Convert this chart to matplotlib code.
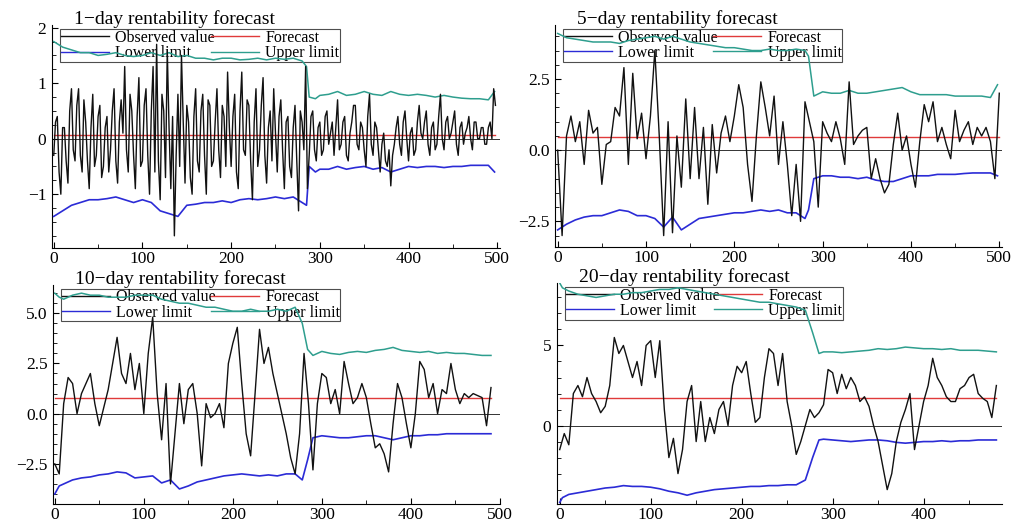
import matplotlib
matplotlib.use("Agg")
import matplotlib.pyplot as plt
import numpy as np
from matplotlib.lines import Line2D
from matplotlib.ticker import AutoMinorLocator, MultipleLocator

plt.rcParams["font.family"] = ["Liberation Serif", "DejaVu Serif"]

titles = ["1\u2212day rentability forecast", "5\u2212day rentability forecast",
          "10\u2212day rentability forecast", "20\u2212day rentability forecast"]
legend_labels = ["Observed value", "Lower limit", "Forecast", "Upper limit"]

# ---- 1-day ----
obs1 = [-0.3, 0.3, 0.4, -0.6, -1.0, 0.2, 0.2, -0.4, -0.8, 0.5,
        0.9, -0.2, -0.4, 0.6, 0.9, -0.3, -0.6, 0.7, 0.3, -0.4,
        -0.9, 0.2, 0.8, -0.5, -0.3, 0.4, 0.6, -0.7, -0.5, 0.2,
        0.4, -0.6, -0.2, 0.5, 0.9, -0.4, -0.8, 0.3, 0.7, 0.1,
        1.3, -0.2, -0.6, 0.8, 0.5, -0.3, -0.9, 0.4, 1.1, -0.5,
        -0.4, 0.6, 0.9, -0.3, -1.0, 0.5, 1.3, -0.6, 1.7, -0.4,
        -1.1, 0.8, 0.5, -0.7, 1.6, 0.2, -0.9, 0.4, -1.75, -0.3,
        0.8, -0.5, 1.5, 0.3, -0.8, 0.6, 0.3, -0.7, -1.0, 0.4,
        0.9, -0.4, -0.6, 0.5, 0.8, -0.3, -1.0, 0.7, 0.6, -0.5,
        -0.4, 0.3, 0.9, -0.2, -0.7, 0.6, 0.4, -0.5, 1.2, 0.2,
        -0.5, 0.4, 0.8, -0.6, -0.9, 0.5, 1.2, -0.2, -0.3, 0.7,
        0.6, -0.4, -1.1, 0.3, 0.9, -0.5, -0.2, 0.6, 1.1, -0.3,
        -0.8, 0.2, 0.5, -0.4, 0.9, 0.1, -0.6, 0.4, 0.7, -0.2,
        -0.9, 0.3, 0.4, -0.5, -0.7, 0.2, 0.6, -0.4, -1.3, 0.5,
        0.3, -0.2, 1.3, -0.9, -0.3, 0.4, 0.5, -0.2, -0.4, 0.2,
        0.3, -0.3, -0.2, 0.4, 0.5, -0.1, 0.1, 0.3, -0.3, 0.2,
        0.7, -0.2, -0.1, 0.3, 0.4, -0.3, -0.4, 0.1, 0.3, 0.6,
        0.6, -0.1, -0.2, 0.3, 0.2, -0.2, -0.5, 0.4, 0.8, -0.1,
        -0.3, 0.3, 0.2, -0.2, -0.6, -0.1, 0.1, -0.4, -0.5, -0.2,
        -0.85, -0.3, -0.1, 0.2, 0.4, -0.1, -0.3, 0.3, 0.5, 0.0,
        -0.4, 0.1, 0.2, -0.3, -0.2, 0.3, 0.6, 0.1, 0.0, 0.3,
        0.5, -0.1, -0.3, 0.2, 0.3, -0.2, -0.1, 0.4, 0.8, 0.0,
        -0.2, 0.3, 0.4, 0.0, 0.1, 0.3, 0.5, -0.1, -0.3, 0.2,
        0.3, -0.1, 0.1, 0.2, 0.4, 0.0, -0.2, 0.3, 0.3, 0.0,
        0.0, 0.2, 0.2, -0.1, -0.1, 0.2, 0.3, 0.0, 0.9, 0.6]
t_obs1 = list(range(0, 500, 2))
fc1 = 0.07
t_lim1 = [0, 10, 20, 30, 40, 50, 60, 70, 80, 90, 100, 110, 120, 130, 140, 150,
          160, 170, 180, 190, 200, 210, 220, 230, 240, 250, 260, 270, 280, 285,
          288, 295, 300, 310, 320, 330, 340, 350, 360, 370, 380, 390, 400, 410,
          420, 430, 440, 450, 460, 470, 480, 490, 497]
up1 = [1.75, 1.65, 1.6, 1.55, 1.55, 1.5, 1.52, 1.55, 1.5, 1.48, 1.5, 1.55, 1.5,
       1.55, 1.48, 1.5, 1.45, 1.45, 1.42, 1.45, 1.45, 1.42, 1.43, 1.45, 1.42,
       1.45, 1.43, 1.45, 1.4, 1.3, 0.75, 0.72, 0.78, 0.8, 0.85, 0.78, 0.8, 0.85,
       0.8, 0.78, 0.85, 0.8, 0.78, 0.8, 0.78, 0.75, 0.78, 0.75, 0.73, 0.72, 0.72,
       0.7, 0.85]
lo1 = [-1.4, -1.3, -1.2, -1.15, -1.1, -1.1, -1.08, -1.05, -1.1, -1.15, -1.1,
       -1.15, -1.3, -1.35, -1.4, -1.2, -1.18, -1.15, -1.15, -1.12, -1.15, -1.1,
       -1.08, -1.1, -1.08, -1.05, -1.08, -1.05, -1.15, -1.2, -0.5, -0.6, -0.55,
       -0.55, -0.5, -0.55, -0.52, -0.5, -0.55, -0.52, -0.6, -0.55, -0.5, -0.52,
       -0.5, -0.5, -0.52, -0.5, -0.5, -0.48, -0.48, -0.48, -0.6]

# ---- 5-day ----
obs2 = [0.0, -3.0, 0.5, 1.2, 0.3, 1.0, -0.5, 1.4, 0.6, 0.8,
        -1.2, 0.2, 0.3, 1.5, 1.2, 2.9, -0.5, 2.7, 0.4, 1.3,
        -0.3, 1.2, 3.5, 0.5, -3.0, 1.0, -2.9, 0.5, -1.3, 1.8,
        -1.0, 1.5, -1.0, 0.8, -1.9, 0.9, -0.8, 0.6, 1.2, 0.3,
        1.2, 2.3, 1.5, -0.5, -1.8, 0.5, 2.4, 1.5, 0.5, 1.9,
        -0.5, 1.0, -0.5, -2.3, -0.5, -2.5, 1.7, 1.0, 0.3, -2.0,
        1.0, 0.6, 0.3, 1.0, 0.4, -0.5, 2.4, 0.2, 0.5, 0.7,
        0.8, -1.0, -0.3, -1.0, -1.5, -1.2, 0.2, 1.3, 0.0, 0.5,
        -0.5, -1.3, 0.3, 1.6, 1.0, 1.7, 0.3, 0.8, 0.2, -0.3,
        1.4, 0.3, 0.7, 1.0, 0.2, 0.8, 0.5, 0.8, 0.3, -1.0, 2.0]
t_obs2 = list(range(0, 501, 5))
fc2 = 0.45
t_lim2 = list(range(0, 281, 10)) + [284, 290] + list(range(300, 491, 10)) + [498]
up2 = [4.1, 3.95, 3.9, 3.85, 3.8, 3.8, 3.8, 3.75, 3.85, 3.9,
       3.95, 4.0, 3.9, 4.0, 3.9, 3.8, 3.75, 3.7, 3.65, 3.6,
       3.6, 3.55, 3.5, 3.5, 3.55, 3.5, 3.5, 3.55, 3.5, 3.3, 1.9,
       2.05, 2.0, 2.0, 2.1, 2.0, 2.0, 2.05, 2.1, 2.15, 2.2,
       2.05, 1.95, 1.95, 1.95, 1.95, 1.9, 1.9, 1.9, 1.9, 1.85, 2.3]
lo2 = [-2.8, -2.6, -2.45, -2.35, -2.3, -2.3, -2.2, -2.1, -2.15, -2.3,
       -2.3, -2.4, -2.7, -2.35, -2.8, -2.6, -2.4, -2.35, -2.3, -2.25,
       -2.2, -2.2, -2.15, -2.1, -2.15, -2.1, -2.2, -2.2, -2.4, -2.1, -1.0,
       -0.9, -0.9, -0.95, -0.95, -1.0, -0.95, -1.05, -1.1, -1.1, -1.0,
       -0.9, -0.9, -0.9, -0.85, -0.85, -0.85, -0.82, -0.8, -0.8, -0.8, -0.9]

# ---- 10-day ----
obs3 = [-2.5, -3.0, 0.5, 1.8, 1.5, 0.0, 1.0, 1.5, 2.0, 0.5,
        -0.6, 0.3, 1.2, 2.5, 3.8, 2.0, 1.5, 3.0, 1.2, 2.5,
        0.0, 3.0, 4.8, 1.0, -1.3, 1.5, -3.5, -1.0, 1.5, -0.5,
        1.2, 1.5, 0.0, -2.6, 0.5, -0.2, 0.0, 0.5, -0.7, 2.5,
        3.5, 4.3, 1.5, -1.0, -2.1, 1.0, 4.2, 2.5, 3.3, 2.0,
        1.0, 0.0, -1.0, -2.2, -3.0, -1.0, 3.0, 0.5, -2.8, 0.5,
        2.0, 1.8, 0.5, 1.2, 0.0, 2.6, 1.5, 0.5, 0.8, 1.5,
        0.8, -0.5, -1.7, -1.5, -2.0, -2.9, -0.5, 1.5, 0.8, -0.5,
        -1.7, 0.0, 2.6, 2.2, 0.8, 1.5, 0.0, 1.2, 1.0, 2.5,
        1.2, 0.5, 1.0, 0.8, 1.0, 0.9, 0.8, -0.6, 1.3]
t_obs3 = list(range(0, 491, 5))
fc3 = 0.8
t_lim3 = [0, 5] + list(range(10, 271, 10)) + [278, 284, 290] + list(range(300, 491, 10))
up3 = [6.0, 5.8, 5.7, 5.9, 6.0, 5.9, 5.9, 5.8, 5.8, 5.8, 5.9, 5.9, 5.9, 5.7,
       5.6, 5.5, 5.5, 5.4, 5.3, 5.3, 5.2, 5.1, 5.1, 5.2, 5.1, 5.1, 5.2, 5.1,
       5.3, 4.5, 3.2, 2.9, 3.1, 3.0, 2.95, 3.05, 3.1, 3.05, 3.15, 3.2, 3.3,
       3.15, 3.1, 3.05, 3.1, 3.0, 3.05, 3.0, 3.0, 2.95, 2.9, 2.9]
lo3 = [-4.0, -3.6, -3.5, -3.3, -3.2, -3.15, -3.05, -3.0, -2.9, -2.95, -3.2,
       -3.15, -3.1, -3.45, -3.3, -3.75, -3.6, -3.4, -3.3, -3.2, -3.1, -3.05,
       -3.0, -3.05, -3.1, -3.05, -3.1, -3.0, -3.0, -3.3, -2.3, -1.2, -1.1,
       -1.15, -1.2, -1.2, -1.15, -1.1, -1.1, -1.2, -1.3, -1.2, -1.1, -1.1,
       -1.05, -1.05, -1.0, -1.0, -1.0, -1.0, -1.0, -1.0]

# ---- 20-day ----
obs4 = [-1.5, -0.5, -1.2, 2.0, 2.5, 1.8, 3.0, 2.0, 1.5, 0.8,
        1.2, 2.5, 5.5, 4.5, 5.0, 4.0, 3.0, 4.0, 2.5, 5.0,
        5.3, 3.0, 5.3, 1.0, -2.0, -0.8, -3.0, -1.5, 1.5, 2.5,
        -1.0, 1.5, -1.0, 0.5, -0.5, 1.0, 1.5, 0.0, 2.5, 3.7,
        3.3, 4.0, 2.0, 0.2, 0.5, 3.0, 4.8, 4.5, 2.5, 4.5,
        1.5, 0.0, -1.8, -1.0, 0.0, 1.0, 0.5, 0.8, 1.3, 3.5,
        3.3, 2.0, 3.2, 2.3, 3.0, 2.5, 1.5, 1.8, 1.2, 0.0,
        -1.0, -2.5, -4.0, -3.0, -1.0, 0.2, 1.0, 2.0, -1.5, 0.0,
        1.5, 2.5, 4.2, 3.0, 2.5, 1.8, 1.5, 1.5, 2.3, 2.5,
        3.0, 3.2, 2.0, 1.7, 1.5, 0.5, 2.5]
t_obs4 = list(range(0, 481, 5))
fc4 = 1.7
t_lim4 = [0, 3] + list(range(10, 261, 10)) + [270, 278, 285, 290] + list(range(300, 481, 10))
up4 = [8.9, 8.6, 8.4, 8.2, 8.1, 8.0, 8.1, 8.2, 8.2, 8.3, 8.3, 8.4, 8.5, 8.5,
       8.6, 8.5, 8.4, 8.3, 8.2, 8.1, 8.0, 7.9, 7.8, 7.7, 7.7, 7.6, 7.5, 7.4,
       7.2, 5.8, 4.5, 4.6, 4.6, 4.55, 4.6, 4.65, 4.7, 4.8, 4.75, 4.8, 4.9,
       4.85, 4.8, 4.8, 4.75, 4.8, 4.7, 4.7, 4.7, 4.65, 4.6]
lo4 = [-4.8, -4.5, -4.3, -4.2, -4.1, -4.0, -3.9, -3.85, -3.75, -3.8, -3.8,
       -3.85, -3.95, -4.1, -4.2, -4.35, -4.2, -4.1, -4.0, -3.95, -3.9, -3.85,
       -3.8, -3.8, -3.75, -3.75, -3.7, -3.7, -3.4, -2.0, -0.9, -0.85, -0.9,
       -0.95, -1.0, -0.95, -0.9, -0.9, -0.95, -1.05, -1.1, -1.05, -1.0, -1.0,
       -0.95, -1.0, -0.95, -0.95, -0.9, -0.9, -0.9]

BLACK, RED, BLUE, TEAL = "#111111", "#e03a3a", "#2b2bd6", "#2e9e8e"

panels = [
    (t_obs1, obs1, fc1, t_lim1, up1, lo1, (-2, 503), (-1.97, 2.05), 1, 4),
    (t_obs2, obs2, fc2, t_lim2, up2, lo2, (-3, 503), (-3.4, 4.4), 2.5, 5),
    (t_obs3, obs3, fc3, t_lim3, up3, lo3, (-2, 500), (-4.5, 6.4), 2.5, 5),
    (t_obs4, obs4, fc4, t_lim4, up4, lo4, (-3, 486), (-4.9, 8.9), 5, 5),
]
rects = [
    [0.0507, 0.532, 0.437, 0.421],
    [0.5415, 0.534, 0.436, 0.419],
    [0.0517, 0.049, 0.436, 0.413],
    [0.5434, 0.049, 0.434, 0.417],
]

fig = plt.figure(figsize=(10.25, 5.3), dpi=100)

for i, (to, ob, fc, tl, up, lo, xl, yl, ymaj, yminor) in enumerate(panels):
    ax = fig.add_axes(rects[i])
    ax.axhline(0, color="#333333", lw=0.7, zorder=1)
    ax.plot([to[0], to[-1]], [fc, fc], color=RED, lw=1.0, zorder=2)
    ax.plot(tl, lo, color=BLUE, lw=1.2, zorder=3)
    ax.plot(tl, up, color=TEAL, lw=1.1, zorder=3)
    ax.plot(to, ob, color=BLACK, lw=1.0, zorder=4)
    ax.set_xlim(*xl)
    ax.set_ylim(*yl)
    ax.xaxis.set_major_locator(MultipleLocator(100))
    ax.xaxis.set_minor_locator(MultipleLocator(50))
    ax.yaxis.set_major_locator(MultipleLocator(ymaj))
    ax.yaxis.set_minor_locator(AutoMinorLocator(yminor))
    ax.spines["top"].set_visible(False)
    ax.spines["right"].set_visible(False)
    ax.tick_params(which="both", direction="in", labelsize=12.5)
    ax.tick_params(axis="x", pad=2)
    ax.tick_params(axis="y", pad=4)
    ax.tick_params(which="major", length=4)
    ax.tick_params(which="minor", length=3)
    ax.text(0.05, 1.004, titles[i], transform=ax.transAxes, fontsize=14,
            ha="left", va="baseline")
    handles = [Line2D([], [], color=BLACK, lw=1), Line2D([], [], color=BLUE, lw=1),
               Line2D([], [], color=RED, lw=1), Line2D([], [], color=TEAL, lw=1)]
    leg = ax.legend(handles, legend_labels, loc="lower left",
                    bbox_to_anchor=(0.018, 0.834, 0.625, 0.139), mode="expand",
                    ncol=2, fontsize=11.5, frameon=True, fancybox=False,
                    edgecolor="#222222", facecolor="none", framealpha=None,
                    borderpad=0.05, labelspacing=-0.05, handlelength=3.0,
                    handletextpad=0.4, columnspacing=1.0, borderaxespad=0)
    leg.get_frame().set_linewidth(0.8)
    leg.set_zorder(2.5)

fig.savefig("out.png", dpi=100)
